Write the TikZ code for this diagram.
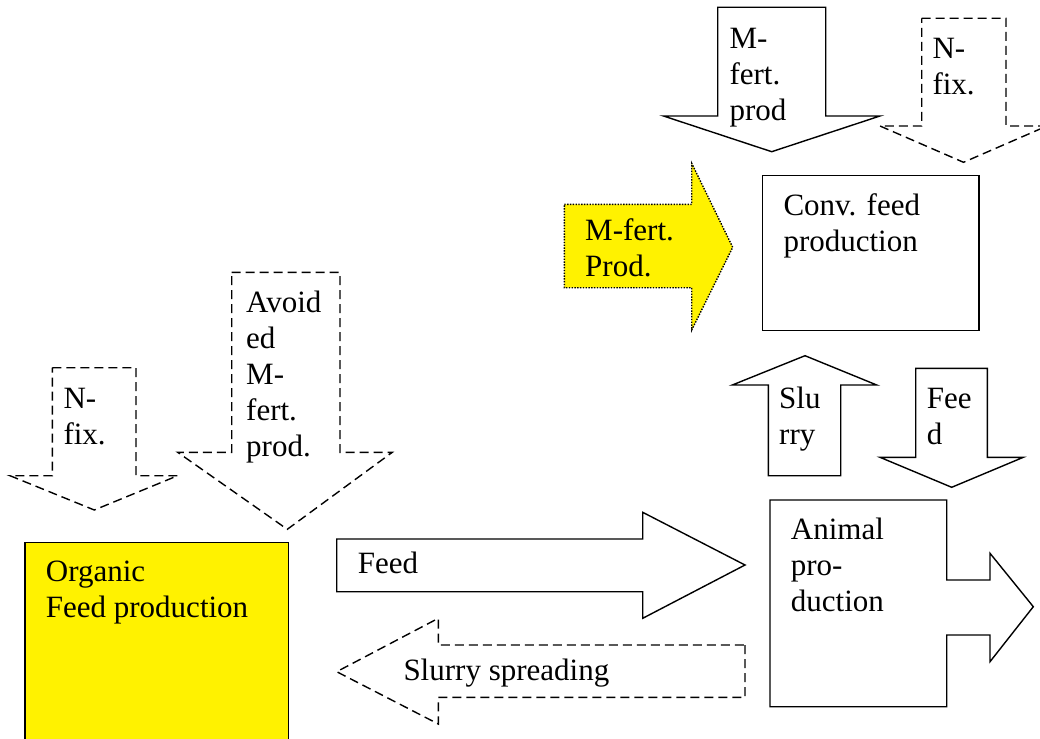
\documentclass[tikz,border=0pt]{standalone}
\usepackage{fontspec}
\setmainfont{Liberation Serif}
% stacked lines of text; the box's baseline is that of its first line
\newcommand\linesof[1]{\vtop{\baselineskip=36pt\lineskip=0pt\lineskiplimit=-20pt\halign{##\hfil\cr#1\crcr}}}
\begin{document}
\begin{tikzpicture}[x=1pt,y=-1pt,
  solidarrow/.style={draw=black,line width=1.4pt,line join=miter,fill=white},
  dashedarrow/.style={draw=black,line width=1.4pt,dash pattern=on 9pt off 5pt,fill=white},
  dottedarrow/.style={draw=black,line width=1.4pt,dash pattern=on 1.4pt off 1.4pt,fill=yellow},
  plainbox/.style={draw=black,line width=1.4pt,fill=white},
  yellowbox/.style={draw=black,line width=1.4pt,fill=yellow},
  label/.style={anchor=base west,inner sep=0pt,font=\fontsize{31}{36}\selectfont}]
\useasboundingbox (0,0) rectangle (1040,738);
\clip (0,0) rectangle (1040,738);

% Conventional feed production
\draw[plainbox] (762.7,175.7) rectangle (979,330.7);
\node[label] (conv) at (783.3,215.7) {\linesof{Conv. feed\cr production}};

% mineral fertiliser production into conventional feed
\draw[solidarrow] (717.7,7.3) -- (825.7,7.3) -- (825.7,116) -- (880,116) -- (771.7,151.7)
  -- (663.5,116) -- (717.7,116) -- cycle;
\node[label] (mfertA) at (729.3,48.3) {\linesof{M-\cr fert.\cr prod}};

% nitrogen fixation into conventional feed
\draw[dashedarrow] (921.7,18.3) -- (1006,18.3) -- (1006,126) -- (1047,126) -- (963.5,162.3)
  -- (880,126) -- (921.7,126) -- cycle;
\node[label] (nfixA) at (932.3,58.3) {\linesof{N-\cr fix.}};

% highlighted mineral fertiliser production
\draw[dottedarrow] (564.3,204.3) -- (691.7,204.3) -- (691.7,163.3) -- (732.7,247.3)
  -- (691.7,330) -- (691.7,287.7) -- (564.3,287.7) -- cycle;
\node[label] (mfertB) at (585,240) {\linesof{M-fert.\cr Prod.}};

% nitrogen fixation, organic side
\draw[dashedarrow] (52.3,367.7) -- (136,367.7) -- (136,475.7) -- (177.7,475.7) -- (94.3,510)
  -- (10,475.7) -- (52.3,475.7) -- cycle;
\node[label] (nfixB) at (63.3,408.3) {\linesof{N-\cr fix.}};

% avoided mineral fertiliser production
\draw[dashedarrow] (231.7,272.3) -- (340,272.3) -- (340,452.3) -- (392.3,452.3) -- (287.3,529.3)
  -- (177.7,452.3) -- (231.7,452.3) -- cycle;
\node[label] (avoided) at (246,312.3) {\linesof{Avoid\cr ed\cr M-\cr fert.\cr prod.}};

% slurry up to conventional feed
\draw[solidarrow] (768.3,475.7) -- (768.3,385) -- (732.3,385) -- (805,355.7) -- (876.7,385)
  -- (840.7,385) -- (840.7,475.7) -- cycle;
\node[label] (slurryup) at (779,408.3) {\linesof{Slu\cr rry}};

% feed down to animal production
\draw[solidarrow] (915.7,368.3) -- (987.3,368.3) -- (987.3,457.3) -- (1023.3,457.3) -- (951.7,487.3)
  -- (880,457.3) -- (915.7,457.3) -- cycle;
\node[label] (feeddown) at (926.7,408.3) {\linesof{Fee\cr d}};

% animal production with outgoing arrow
\draw[solidarrow] (770,500) -- (946.7,500) -- (946.7,580) -- (990,580) -- (990,553.3) -- (1033.3,606.7)
  -- (990,661.7) -- (990,635) -- (946.7,635) -- (946.7,706.7) -- (770,706.7) -- cycle;
\node[label] (animal) at (790.7,539.3) {\linesof{Animal\cr pro-\cr duction}};

% feed from organic production to animals
\draw[solidarrow] (336.7,539) -- (642.7,539) -- (642.7,512.3) -- (745,565) -- (642.7,618.3)
  -- (642.7,591.7) -- (336.7,591.7) -- cycle;
\node[label] (feedright) at (357.7,573.3) {Feed};

% slurry spreading back to organic production
\draw[dashedarrow] (745,645) -- (745,697.3) -- (438.3,697.3) -- (438.3,724) -- (336.7,671.7)
  -- (438.3,618.3) -- (438.3,645) -- cycle;
\node[label] (spread) at (403.3,680) {Slurry spreading};

% organic feed production
\draw[yellowbox] (25,542.3) rectangle (288.3,760);
\node[label] (organic) at (45.7,581.7) {\linesof{Organic\cr Feed production}};
\end{tikzpicture}
\end{document}
